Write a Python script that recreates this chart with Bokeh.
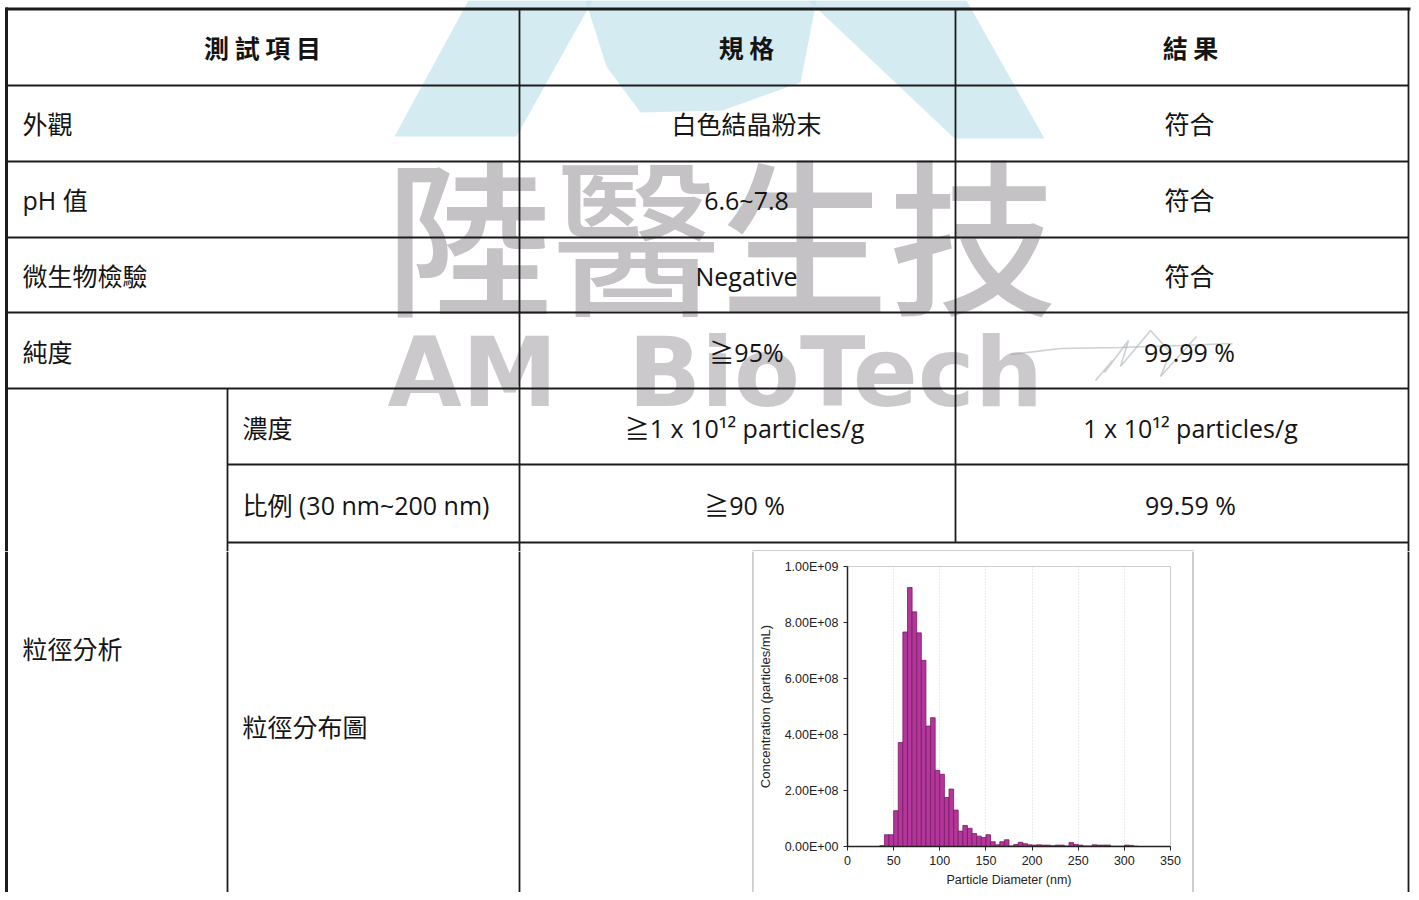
from bokeh.plotting import figure
from bokeh.layouts import column, row
from bokeh.models import Range1d, FixedTicker, CustomJSTickFormatter, ColumnDataSource
from bokeh.core.properties import value
from bokeh.embed import file_html
from bokeh.resources import INLINE

# ---------------- histogram data (5 nm bins, left edges) ----------------
bin_width_nm = 5
bin_left_nm = [35, 40, 45, 50, 55, 60, 65, 70, 75, 80, 85, 90, 95, 100, 105, 110,
               115, 120, 125, 130, 135, 140, 145, 150, 155, 160, 165, 170, 175, 180,
               185, 190, 195, 200, 205, 210, 215, 220, 225, 230, 235, 240, 245, 250,
               255, 260, 265, 270, 275, 280, 285, 290, 295, 300, 305, 310]
concentration_per_ml = [3e6, 42e6, 42e6, 128e6, 371e6, 766e6, 925e6, 838e6, 763e6,
                        665e6, 430e6, 460e6, 272e6, 258e6, 175e6, 205e6, 130e6, 55e6,
                        75e6, 65e6, 46e6, 37e6, 32e6, 42e6, 17e6, 6e6, 17e6, 24e6,
                        2e6, 7e6, 15e6, 10e6, 6e6, 5e6, 6e6, 5e6, 5e6, 3e6, 5e6, 5e6,
                        2e6, 14e6, 7e6, 5e6, 2e6, 2e6, 6e6, 5e6, 5e6, 5e6, 1e6, 1e6,
                        1e6, 5e6, 4e6, 1e6]
x_tick_values = [0, 50, 100, 150, 200, 250, 300, 350]
y_tick_values = [0, 2e8, 4e8, 6e8, 8e8, 1e9]
x_axis_title = "Particle Diameter (nm)"
y_axis_title = "Concentration (particles/mL)"

# ---------------- table texts ----------------
header_labels = ["測 試 項 目", "規 格", "結 果"]
item_labels = ["外觀", "pH 值", "微生物檢驗", "純度"]
spec_labels = ["白色結晶粉末", "6.6~7.8", "Negative", "≧95%"]
result_labels = ["符合", "符合", "符合", "99.99 %"]
group_label = "粒徑分析"
sub_item_labels = ["濃度", "比例 (30 nm~200 nm)"]
sub_spec_labels = ["≧1 x 10¹² particles/g", "≧90 %"]
sub_result_labels = ["1 x 10¹² particles/g", "99.59 %"]
chart_label = "粒徑分布圖"
watermark_cjk = "陸醫生技"
watermark_latin = ["AM", "BioTech"]

FONT = value("Open Sans, Noto Sans CJK TC")
CJK = value("Noto Sans CJK TC")
CJK_MED = value("Noto Sans CJK TC Medium, Noto Sans CJK TC")
LINE = "#1c1c1c"
TXT = "#141414"
W = 1411


def blank(w, h, x0, x1, y0, y1):
    f = figure(width=w, height=h, x_range=Range1d(x0, x1), y_range=Range1d(y1, y0),
               toolbar_location=None, output_backend="svg",
               x_axis_location=None, y_axis_location=None, min_border=0,
               background_fill_color="white", border_fill_color="white")
    f.min_border_left = f.min_border_right = f.min_border_top = f.min_border_bottom = 0
    f.outline_line_color = None
    f.grid.visible = False
    return f


# ================= top part: picture px 0..1411 x 0..551 =================
top = blank(W, 551, 0, W, 0, 551)

# watermark: light-blue logo strokes
logo_xs = [[468, 592, 516, 394],
           [585, 816, 800, 722, 640, 606],
           [808, 966, 1044, 954]]
logo_ys = [[0, 0, 136, 136],
           [0, 0, 82, 110, 112, 66],
           [0, 0, 138, 138]]
top.patches(logo_xs, logo_ys, fill_color="#c4e3ed", fill_alpha=0.72, line_color=None)

# watermark: grey company name
top.text(x=[720], y=[229], text=[watermark_cjk], text_font=CJK_MED, text_font_style="normal",
         text_font_size="168px", text_align="center", text_baseline="middle",
         text_color="#b6b3b6", text_alpha=0.8)
top.text(x=[472, 835], y=[372, 372], text=watermark_latin, text_font=value("DejaVu Sans"),
         text_font_style="bold", text_font_size="96px", text_align="center",
         text_baseline="middle", text_color="#bebbbe", text_alpha=0.8)

# signature strokes near the purity result
sig_xs = [[1010, 1060, 1120, 1180, 1232], [1095, 1112, 1104, 1128, 1120, 1150, 1170, 1160, 1196]]
sig_ys = [[354, 348, 347, 345, 343], [380, 360, 372, 340, 366, 330, 352, 376, 336]]
top.multi_line(sig_xs, sig_ys, line_color="#9aa2a8", line_width=1.6, line_alpha=0.5)

# table grid lines
hx0 = [6, 6, 6, 6, 6, 227, 227]
hx1 = [1408, 1408, 1408, 1408, 1408, 1408, 1408]
hy = [85, 161, 237, 312, 388, 464, 542]
top.segment(x0=hx0, y0=hy, x1=hx1, y1=hy, line_color=LINE, line_width=1.8)
top.segment(x0=[5], y0=[8.5], x1=[1410], y1=[8.5], line_color=LINE, line_width=3)
vx = [227, 519, 955, 1408]
vy0 = [388, 8, 8, 8]
vy1 = [551, 551, 542, 551]
top.segment(x0=vx, y0=vy0, x1=vx, y1=vy1, line_color=LINE, line_width=1.8)
top.segment(x0=[6], y0=[7], x1=[6], y1=[551], line_color=LINE, line_width=3)
# top edge of the chart picture
top.segment(x0=[752], y0=[550.5], x1=[1193], y1=[550.5], line_color="#9a9a9a", line_width=1)

# header texts
top.text(x=[262, 746, 1190], y=[46, 46, 46], text=header_labels, text_font=CJK,
         text_font_style="bold", text_font_size="25px", text_align="center",
         text_baseline="middle", text_color=TXT)
row_y = [123, 199, 275, 351]
top.text(x=[22] * 4, y=row_y, text=item_labels, text_font=FONT, text_font_size="25px",
         text_align="left", text_baseline="middle", text_color=TXT)
top.text(x=[746] * 4, y=row_y, text=spec_labels, text_font=FONT, text_font_size="25px",
         text_align="center", text_baseline="middle", text_color=TXT)
top.text(x=[1189] * 4, y=row_y, text=result_labels, text_font=FONT, text_font_size="25px",
         text_align="center", text_baseline="middle", text_color=TXT)
sub_y = [427, 504]
top.text(x=[242, 242], y=sub_y, text=sub_item_labels, text_font=FONT, text_font_size="25px",
         text_align="left", text_baseline="middle", text_color=TXT)
top.text(x=[744, 744], y=sub_y, text=sub_spec_labels, text_font=FONT, text_font_size="25px",
         text_align="center", text_baseline="middle", text_color=TXT)
top.text(x=[1190, 1190], y=sub_y, text=sub_result_labels, text_font=FONT, text_font_size="25px",
         text_align="center", text_baseline="middle", text_color=TXT)

# ================= bottom part: picture px 0..1411 x 551..892 =================
bottom = blank(W, 341, 0, W, 551, 892)
bottom.segment(x0=[227, 519, 1408], y0=[551] * 3, x1=[227, 519, 1408], y1=[892] * 3,
               line_color=LINE, line_width=1.8)
bottom.segment(x0=[6], y0=[551], x1=[6], y1=[892], line_color=LINE, line_width=3)
bottom.segment(x0=[752.5, 1192.5], y0=[551, 551], x1=[752.5, 1192.5], y1=[892, 892],
               line_color="#9a9a9a", line_width=1)
bottom.text(x=[22, 242], y=[648, 726], text=[group_label, chart_label], text_font=FONT,
            text_font_size="25px", text_align="left", text_baseline="middle", text_color=TXT)

# ================= histogram: picture px 753..1192 x 551..892 =================
hist = figure(width=439, height=341, x_range=Range1d(0, 350), y_range=Range1d(0, 1e9),
              toolbar_location=None, output_backend="svg",
              background_fill_color="white", border_fill_color="white")
hist.min_border_left = 94
hist.min_border_right = 22
hist.min_border_top = 15
hist.min_border_bottom = 46
hist.outline_line_color = "#cfcfcf"

src = ColumnDataSource(dict(
    left=bin_left_nm,
    right=[b + bin_width_nm for b in bin_left_nm],
    top=concentration_per_ml,
))
hist.quad(left="left", right="right", bottom=0, top="top", source=src,
          fill_color="#b3369a", line_color="#7a1a66", line_width=0.8)

hist.xaxis.ticker = FixedTicker(ticks=x_tick_values)
hist.yaxis.ticker = FixedTicker(ticks=y_tick_values)
hist.yaxis.formatter = CustomJSTickFormatter(code="""
    const parts = tick.toExponential(2).split('e');
    let e = parseInt(parts[1]);
    const sign = e < 0 ? '-' : '+';
    e = Math.abs(e);
    return parts[0] + 'E' + sign + (e < 10 ? '0' + e : '' + e);
""")
for ax in (hist.xaxis, hist.yaxis):
    ax.axis_line_color = "#222222"
    ax.axis_line_width = 1.5
    ax.major_tick_line_color = "#222222"
    ax.major_tick_out = 4
    ax.major_tick_in = 0
    ax.minor_tick_line_color = None
    ax.major_label_text_font = "Liberation Sans"
    ax.major_label_text_font_size = "12.5px"
    ax.major_label_text_color = "#222222"
    ax.axis_label_text_font = "Liberation Sans"
    ax.axis_label_text_font_style = "normal"
    ax.axis_label_text_color = "#222222"
hist.xaxis.axis_label_text_font_size = "12.5px"
hist.yaxis.axis_label_text_font_size = "13px"
hist.xaxis.axis_label = x_axis_title
hist.yaxis.axis_label = y_axis_title
hist.xaxis.axis_label_standoff = 5
hist.yaxis.axis_label_standoff = 9
hist.xgrid.grid_line_color = "#d8d8d8"
hist.xgrid.grid_line_dash = "1 2"
hist.ygrid.grid_line_color = None

holder = row(hist)
holder.styles = {"position": "absolute", "left": "753px", "top": "551px"}

layout = column(top, bottom, holder, spacing=0)
layout.styles = {"position": "relative"}

open("out.html", "w").write(file_html(layout, INLINE))
